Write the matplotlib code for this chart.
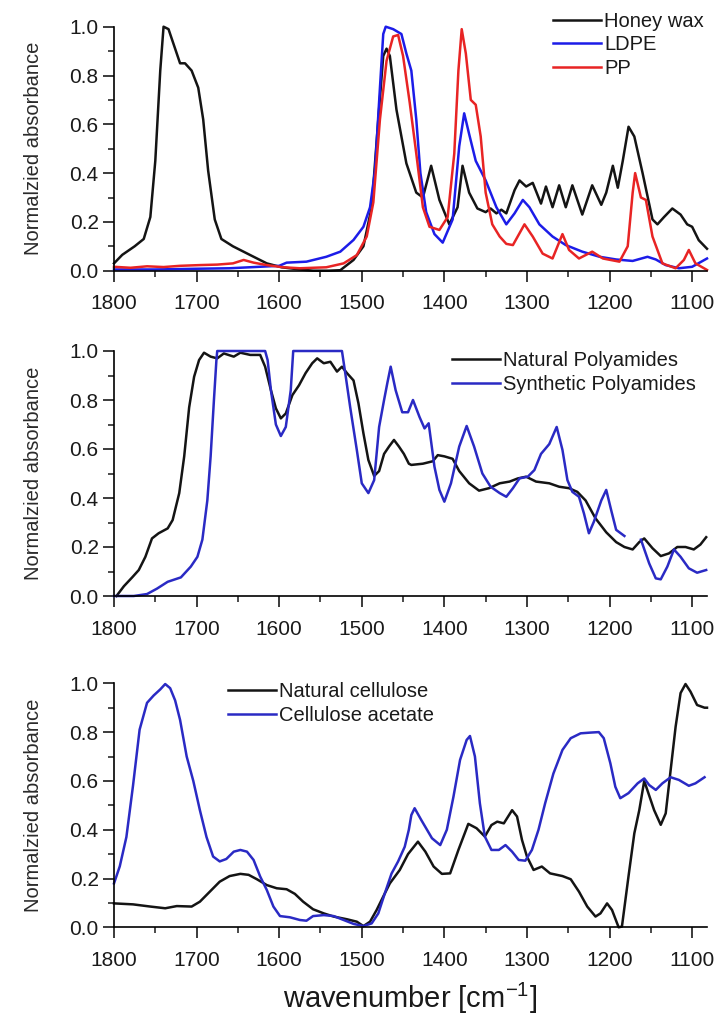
import numpy as np
import matplotlib
matplotlib.use("Agg")
import matplotlib.pyplot as plt
from matplotlib.ticker import MultipleLocator

plt.rcParams["font.family"] = ["Liberation Sans", "DejaVu Sans"]
plt.rcParams["mathtext.default"] = "regular"

# ---- Panel (a): waxes vs. polyolefins ----
honey_wn = [1800, 1790, 1775, 1764, 1756, 1750, 1744, 1740, 1734, 1726, 1720, 1714, 1706, 1698,
            1692, 1686, 1678, 1670, 1656, 1635, 1615, 1597, 1575, 1559, 1540, 1526, 1510, 1498,
            1488, 1480, 1474, 1470, 1466, 1458, 1446, 1434, 1426, 1416, 1406, 1394, 1384, 1378,
            1370, 1360, 1350, 1344, 1337, 1331, 1325, 1315, 1309, 1301, 1293, 1283, 1277, 1269,
            1261, 1253, 1245, 1233, 1221, 1210, 1204, 1196, 1190, 1184, 1177, 1170, 1160, 1148,
            1142, 1134, 1124, 1114, 1106, 1100, 1092, 1082]
honey_abs = [0.03, 0.065, 0.10, 0.13, 0.22, 0.45, 0.82, 1.0, 0.99, 0.91, 0.85, 0.85, 0.82, 0.75,
             0.62, 0.41, 0.21, 0.13, 0.10, 0.064, 0.03, 0.014, 0.005, 0.0, 0.0, 0.002, 0.044, 0.10,
             0.26, 0.62, 0.88, 0.91, 0.88, 0.66, 0.44, 0.32, 0.30, 0.43, 0.29, 0.19, 0.26, 0.43,
             0.32, 0.255, 0.24, 0.255, 0.235, 0.25, 0.235, 0.33, 0.37, 0.345, 0.36, 0.275, 0.345, 0.26,
             0.35, 0.26, 0.35, 0.23, 0.35, 0.27, 0.32, 0.43, 0.34, 0.45, 0.59, 0.55, 0.40, 0.21,
             0.19, 0.22, 0.255, 0.23, 0.19, 0.18, 0.125, 0.09]

ldpe_wn = [1800, 1750, 1700, 1660, 1630, 1600, 1591, 1567, 1543, 1526, 1510, 1498, 1490, 1484,
           1478, 1474, 1471, 1462, 1452, 1446, 1440, 1434, 1429, 1422, 1412, 1402, 1390, 1382,
           1376, 1370, 1362, 1350, 1337, 1325, 1315, 1305, 1297, 1285, 1269, 1253, 1233, 1212,
           1192, 1172, 1154, 1144, 1132, 1116, 1100, 1082]
ldpe_abs = [0.005, 0.005, 0.008, 0.01, 0.015, 0.02, 0.033, 0.037, 0.057, 0.078, 0.126, 0.18, 0.26, 0.41,
            0.75, 0.97, 1.0, 0.99, 0.97, 0.89, 0.82, 0.62, 0.40, 0.24, 0.15, 0.115, 0.21, 0.51,
            0.645, 0.56, 0.45, 0.37, 0.26, 0.19, 0.235, 0.29, 0.26, 0.19, 0.14, 0.105, 0.078, 0.057,
            0.046, 0.04, 0.057, 0.046, 0.023, 0.01, 0.016, 0.05]

pp_wn = [1800, 1780, 1760, 1740, 1720, 1696, 1675, 1656, 1643, 1631, 1615, 1595, 1575, 1543,
         1522, 1506, 1494, 1486, 1478, 1470, 1462, 1456, 1450, 1442, 1434, 1426, 1418, 1406,
         1396, 1388, 1383, 1379, 1374, 1368, 1362, 1356, 1350, 1342, 1333, 1325, 1317, 1303,
         1293, 1281, 1269, 1257, 1249, 1237, 1221, 1208, 1188, 1178, 1172, 1169, 1162, 1156,
         1148, 1136, 1120, 1110, 1104, 1096, 1082]
pp_abs = [0.016, 0.012, 0.018, 0.015, 0.02, 0.023, 0.025, 0.03, 0.044, 0.033, 0.023, 0.014, 0.01, 0.014,
          0.03, 0.064, 0.14, 0.28, 0.62, 0.86, 0.96, 0.966, 0.88, 0.69, 0.48, 0.26, 0.18, 0.167,
          0.22, 0.48, 0.82, 0.99, 0.89, 0.70, 0.68, 0.55, 0.32, 0.19, 0.14, 0.11, 0.105, 0.19,
          0.14, 0.07, 0.05, 0.15, 0.085, 0.05, 0.078, 0.05, 0.037, 0.10, 0.32, 0.40, 0.30, 0.29,
          0.14, 0.03, 0.01, 0.044, 0.085, 0.03, 0.003]

# ---- Panel (b): polyamides ----
natpa_wn = [1797, 1788, 1778, 1770, 1762, 1754, 1746, 1735, 1729, 1721, 1715, 1709, 1703, 1697,
            1691, 1683, 1675, 1667, 1655, 1647, 1635, 1623, 1617, 1610, 1604, 1598, 1592, 1584,
            1576, 1568, 1560, 1554, 1546, 1538, 1530, 1524, 1518, 1510, 1504, 1498, 1492, 1485,
            1479, 1473, 1467, 1461, 1455, 1449, 1443, 1440, 1426, 1414, 1408, 1400, 1390, 1382,
            1370, 1358, 1346, 1333, 1321, 1311, 1301, 1289, 1273, 1261, 1249, 1239, 1229, 1217,
            1204, 1192, 1182, 1172, 1164, 1158, 1148, 1138, 1128, 1118, 1108, 1098, 1090, 1083]
natpa_abs = [0.0, 0.04, 0.076, 0.106, 0.16, 0.235, 0.256, 0.276, 0.31, 0.42, 0.57, 0.77, 0.895, 0.963,
             0.993, 0.977, 0.97, 0.99, 0.977, 0.993, 0.984, 0.984, 0.936, 0.84, 0.766, 0.725, 0.745, 0.82,
             0.86, 0.91, 0.95, 0.97, 0.95, 0.956, 0.916, 0.936, 0.91, 0.88, 0.786, 0.664, 0.555, 0.49,
             0.51, 0.58, 0.61, 0.637, 0.61, 0.58, 0.54, 0.535, 0.54, 0.55, 0.575, 0.57, 0.56, 0.51,
             0.46, 0.43, 0.44, 0.46, 0.467, 0.48, 0.487, 0.467, 0.46, 0.446, 0.44, 0.425, 0.39, 0.317,
             0.26, 0.22, 0.20, 0.19, 0.22, 0.235, 0.195, 0.163, 0.174, 0.20, 0.20, 0.19, 0.21, 0.24]

synpa_wn = [1800, 1776, 1760, 1748, 1735, 1719, 1707, 1699, 1693, 1687, 1683, 1679, 1676, 1675,
            1617, 1614, 1610, 1604, 1598, 1592, 1586, 1583, 1524, 1520, 1514, 1506, 1500, 1492,
            1485, 1479, 1473, 1469, 1465, 1459, 1451, 1444, 1438, 1430, 1424, 1419, 1412, 1406,
            1400, 1392, 1382, 1373, 1364, 1354, 1344, 1333, 1325, 1317, 1309, 1299, 1291, 1283,
            1273, 1264, 1257, 1251, 1245, 1237, 1231, 1225, 1219, 1210, 1204, 1198, 1192, 1182,
            1172,
            1162, 1152, 1144, 1138, 1130, 1122, 1114, 1104, 1094, 1083]
synpa_abs = [0.0, 0.0, 0.008, 0.03, 0.058, 0.076, 0.12, 0.16, 0.23, 0.39, 0.57, 0.80, 0.963, 1.0,
             1.0, 0.963, 0.84, 0.70, 0.653, 0.69, 0.84, 1.0, 1.0, 0.91, 0.77, 0.596, 0.46, 0.42,
             0.473, 0.69, 0.80, 0.87, 0.936, 0.84, 0.75, 0.75, 0.80, 0.73, 0.684, 0.705, 0.528, 0.433,
             0.385, 0.46, 0.61, 0.694, 0.61, 0.50, 0.446, 0.42, 0.405, 0.44, 0.48, 0.487, 0.514, 0.58,
             0.62, 0.69, 0.596, 0.473, 0.425, 0.405, 0.337, 0.256, 0.303, 0.39, 0.433, 0.35, 0.27, 0.245,
             np.nan,
             0.23, 0.133, 0.072, 0.068, 0.12, 0.19, 0.16, 0.113, 0.095, 0.106]

# ---- Panel (c): cellulose ----
natcel_wn = [1800, 1777, 1756, 1738, 1724, 1706, 1696, 1684, 1672, 1660, 1647, 1637, 1627, 1615,
             1603, 1591, 1581, 1571, 1559, 1546, 1534, 1518, 1506, 1498, 1490, 1482, 1474, 1466,
             1454, 1444, 1432, 1423, 1413, 1403, 1393, 1383, 1371, 1361, 1351, 1343, 1336, 1328,
             1318, 1312, 1306, 1300, 1292, 1282, 1272, 1257, 1247, 1237, 1227, 1217, 1211, 1203,
             1197, 1189, 1185, 1177, 1170, 1164, 1158, 1154, 1146, 1138, 1132, 1126, 1120, 1114,
             1108, 1102, 1094, 1085, 1082]
natcel_abs = [0.098, 0.094, 0.085, 0.078, 0.087, 0.085, 0.105, 0.146, 0.187, 0.21, 0.219, 0.215, 0.197, 0.173,
              0.16, 0.156, 0.137, 0.105, 0.074, 0.057, 0.044, 0.033, 0.023, 0.005, 0.023, 0.071, 0.126, 0.18,
              0.235, 0.30, 0.351, 0.31, 0.249, 0.219, 0.221, 0.317, 0.424, 0.406, 0.372, 0.419, 0.433, 0.426,
              0.48, 0.454, 0.358, 0.29, 0.235, 0.249, 0.221, 0.21, 0.197, 0.146, 0.085, 0.044, 0.057, 0.098,
              0.071, 0.0, 0.003, 0.21, 0.385, 0.48, 0.60, 0.56, 0.48, 0.42, 0.467, 0.645, 0.822, 0.96,
              0.997, 0.966, 0.911, 0.90, 0.90]

celac_wn = [1800, 1793, 1785, 1777, 1769, 1760, 1752, 1744, 1738, 1732, 1726, 1720, 1712, 1704,
            1696, 1688, 1680, 1672, 1664, 1655, 1647, 1639, 1631, 1623, 1615, 1607, 1599, 1587,
            1575, 1567, 1559, 1546, 1534, 1522, 1510, 1498, 1488, 1480, 1472, 1464, 1456, 1448,
            1443, 1440, 1436, 1428, 1415, 1405, 1397, 1389, 1381, 1373, 1369, 1363, 1357, 1351,
            1343, 1334, 1326, 1318, 1310, 1302, 1294, 1286, 1278, 1268, 1257, 1247, 1235, 1223,
            1213, 1207, 1199, 1193, 1187, 1177, 1166, 1158, 1152, 1144, 1136, 1126, 1116, 1104,
            1096, 1085]
celac_abs = [0.18, 0.25, 0.37, 0.58, 0.81, 0.92, 0.95, 0.975, 0.997, 0.98, 0.93, 0.85, 0.70, 0.60,
             0.48, 0.37, 0.29, 0.27, 0.28, 0.31, 0.317, 0.31, 0.276, 0.208, 0.153, 0.085, 0.046, 0.041,
             0.03, 0.027, 0.046, 0.05, 0.046, 0.03, 0.014, 0.005, 0.016, 0.057, 0.14, 0.22, 0.27, 0.33,
             0.40, 0.46, 0.488, 0.44, 0.365, 0.337, 0.40, 0.535, 0.686, 0.768, 0.784, 0.70, 0.508, 0.372,
             0.317, 0.317, 0.337, 0.31, 0.276, 0.273, 0.317, 0.40, 0.508, 0.63, 0.727, 0.775, 0.795, 0.798,
             0.80, 0.775, 0.672, 0.576, 0.529, 0.55, 0.59, 0.61, 0.583, 0.563, 0.59, 0.615, 0.604, 0.58,
             0.59, 0.615]

BLACK = "#141414"
BLUE_A = "#1c1ce8"
RED = "#e82424"
BLUE_B = "#2a2ac4"

fig = plt.figure(figsize=(7.24, 10.24), dpi=100)

left, width = 114 / 724, (707 - 114) / 724
panel_rects = [
    (left, 1 - 270.7 / 1024, width, 244 / 1024),
    (left, 1 - 596 / 1024, width, 245 / 1024),
    (left, 1 - 927.3 / 1024, width, 244 / 1024),
]

panels = [
    [(honey_wn, honey_abs, BLACK, "Honey wax"),
     (ldpe_wn, ldpe_abs, BLUE_A, "LDPE"),
     (pp_wn, pp_abs, RED, "PP")],
    [(natpa_wn, natpa_abs, BLACK, "Natural Polyamides"),
     (synpa_wn, synpa_abs, BLUE_B, "Synthetic Polyamides")],
    [(natcel_wn, natcel_abs, BLACK, "Natural cellulose"),
     (celac_wn, celac_abs, BLUE_B, "Cellulose acetate")],
]

# legend anchor: left end of handle line, top of the first row (figure pixels)
legend_anchor = [(553, 12), (452, 351), (228, 682)]
legend_spacing = [0.22, 0.27, 0.27]

for rect, series, (lx, ly), lsp in zip(panel_rects, panels, legend_anchor, legend_spacing):
    ax = fig.add_axes(rect)
    for wn, ab, col, lab in series:
        ax.plot(wn, ab, color=col, lw=1.8, label=lab, clip_on=False, solid_joinstyle="round")
    ax.set_xlim(1800, 1082)
    ax.set_ylim(0, 1.0)
    for s in ("top", "right"):
        ax.spines[s].set_visible(False)
    for s in ("left", "bottom"):
        ax.spines[s].set_linewidth(1.2)
    ax.xaxis.set_major_locator(MultipleLocator(100))
    ax.xaxis.set_minor_locator(MultipleLocator(50))
    ax.yaxis.set_major_locator(MultipleLocator(0.2))
    ax.yaxis.set_minor_locator(MultipleLocator(0.1))
    ax.set_yticks(np.arange(0, 1.01, 0.2))
    ax.set_yticklabels([f"{v:.1f}" for v in np.arange(0, 1.01, 0.2)])
    ax.tick_params(which="major", direction="out", length=8, width=1.2,
                   labelsize=15, colors="#1a1a1a")
    ax.tick_params(which="minor", direction="out", length=4.5, width=1.1, colors="#1a1a1a")
    ax.tick_params(axis="x", which="major", pad=9)
    ax.tick_params(axis="y", which="major", pad=3)
    ax.set_ylabel("Normalzied absorbance", fontsize=14.5, color="#2a2a2a")
    ax.yaxis.set_label_coords(-0.12, 0.5)
    leg = ax.legend(loc="upper left", bbox_to_anchor=(lx / 724, 1 - ly / 1024),
                    bbox_transform=fig.transFigure, frameon=False, fontsize=14.5,
                    handlelength=2.4, handletextpad=0.15, labelspacing=lsp,
                    borderpad=0, borderaxespad=0)
    for t in leg.get_texts():
        t.set_color("#1a1a1a")

fig.text(410 / 724, 1 - 998 / 1024, "wavenumber [cm$^{-1}$]", fontsize=21,
         ha="center", va="center", color="#1a1a1a")

fig.savefig("out.png", dpi=100)
